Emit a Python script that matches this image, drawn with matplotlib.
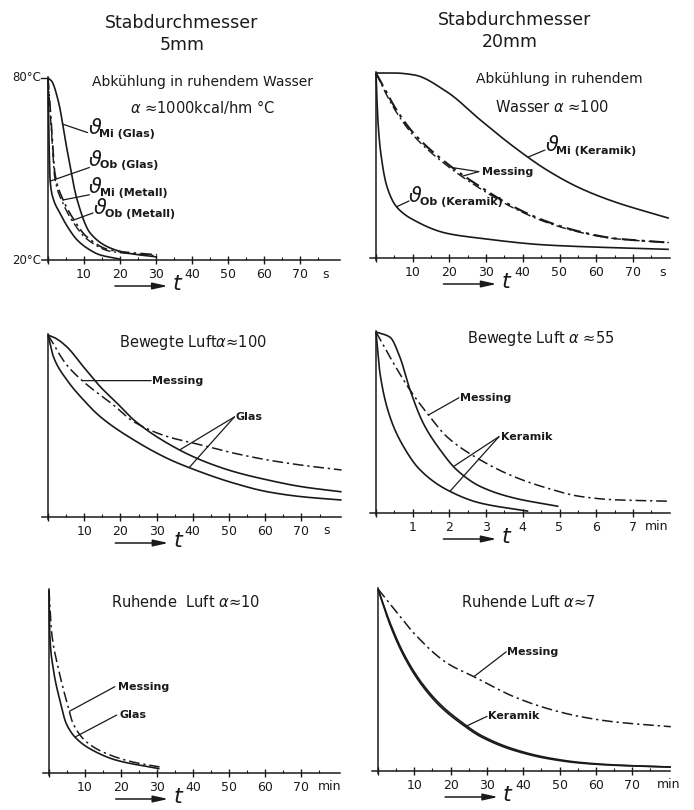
import numpy as np
import matplotlib.pyplot as plt

plt.rcParams['font.family'] = ['DejaVu Sans']
plt.rcParams['mathtext.fontset'] = 'dejavusans'

INK = '#1a1a1a'

# --- Stabdurchmesser 5 mm, ruhendes Wasser (t in s, Temperatur in °C) ---
w5_t_mi_glas = [0, 1.0, 2.8, 5.3, 8.1, 11.7, 17.2, 22.0, 30.3]
w5_v_mi_glas = [80, 79.0, 72.7, 56.3, 39.8, 28.9, 24.0, 22.3, 21.0]
w5_t_ob_glas = [0, 0.3, 0.6, 1.5, 3.3, 5.5, 8.1, 11.0, 14.4, 20.0]
w5_v_ob_glas = [80, 58.0, 46.0, 40.0, 35.5, 30.8, 26.6, 23.8, 21.7, 20.3]
w5_t_mi_met = [0, 0.5, 1.1, 1.9, 4.2, 6.7, 10.8, 17.2, 30.3]
w5_v_mi_met = [80, 72.0, 61.9, 48.7, 39.8, 34.2, 27.6, 23.3, 21.7]
w5_t_ob_met = [0, 0.5, 1.1, 1.9, 4.2, 6.7, 10.8, 17.2, 30.3]
w5_v_ob_met = [80, 70.5, 60.0, 47.0, 38.6, 33.0, 26.9, 22.9, 21.4]

# --- Stabdurchmesser 20 mm, ruhendes Wasser ---
w20_t_mi_ker = [0, 5.0, 10.3, 19.3, 28.4, 37.5, 46.6, 55.7, 64.8, 79.8]
w20_v_mi_ker = [80, 80.0, 79.4, 73.9, 64.8, 56.1, 48.5, 42.6, 38.3, 32.9]
w20_t_mess1 = [0, 2.5, 5.6, 10.3, 19.3, 28.4, 37.5, 46.6, 55.7, 64.8, 79.8]
w20_v_mess1 = [80, 74.5, 68.0, 60.4, 50.7, 43.1, 36.6, 31.8, 28.5, 26.4, 25.0]
w20_t_mess2 = [0, 2.5, 5.6, 10.3, 19.3, 28.4, 37.5, 46.6, 55.7, 64.8, 79.8]
w20_v_mess2 = [80, 73.8, 67.2, 59.6, 50.0, 42.5, 36.2, 31.5, 28.3, 26.3, 25.0]
w20_t_ob_ker = [0, 0.5, 1.2, 3.0, 5.6, 10.3, 19.3, 28.4, 46.6, 79.8]
w20_v_ob_ker = [80, 65.0, 55.0, 43.1, 36.6, 32.3, 28.0, 26.4, 24.2, 22.8]

# --- Bewegte Luft alpha ~ 100 (t in s) ---
b100_t_glas_mi = [0, 2.0, 5.2, 9.8, 14.4, 19.1, 23.7, 33.0, 42.2, 51.5, 60.7, 70.0, 81.1]
b100_v_glas_mi = [80, 79.0, 76.1, 69.5, 63.0, 57.5, 52.0, 44.3, 38.8, 34.9, 32.2, 30.0, 28.3]
b100_t_mess = [0, 5.2, 9.8, 18.1, 23.7, 33.0, 40.4, 51.5, 60.7, 70.0, 81.1]
b100_v_mess = [80, 70.1, 64.6, 56.9, 51.4, 46.5, 44.3, 41.0, 38.8, 37.1, 35.5]
b100_t_glas_ob = [0, 1.5, 5.2, 9.8, 14.4, 23.7, 33.0, 38.5, 51.5, 60.7, 70.0, 81.1]
b100_v_glas_ob = [80, 72.8, 65.2, 58.6, 53.1, 45.4, 39.3, 36.5, 31.1, 28.3, 26.7, 25.6]

# --- Bewegte Luft alpha ~ 55 (t in min) ---
b55_t_ker_mi = [0, 0.38, 0.65, 0.93, 1.29, 1.75, 2.2, 2.84, 3.75, 4.97]
b55_v_ker_mi = [80, 78.3, 71.7, 60.7, 49.7, 40.9, 34.3, 28.8, 25.0, 22.2]
b55_t_ker_ob = [0, 0.11, 0.38, 0.75, 1.2, 1.93, 2.84, 4.15]
b55_v_ker_ob = [80, 66.2, 51.9, 42.0, 34.3, 27.7, 23.3, 20.6]
b55_t_mess = [0, 0.38, 0.93, 1.43, 1.93, 2.84, 3.75, 4.65, 5.56, 6.47, 8.0]
b55_v_mess = [80, 71.7, 60.7, 52.5, 45.3, 37.6, 32.1, 28.3, 25.5, 24.4, 23.9]

# --- Ruhende Luft alpha ~ 10 (t in min) ---
r10_t_glas = [0, 0.2, 1.1, 3.0, 4.8, 7.6, 12.2, 18.7, 30.7]
r10_v_glas = [80, 65.8, 54.8, 43.9, 36.2, 31.3, 27.4, 24.2, 21.4]
r10_t_mess = [0, 0.65, 2.5, 4.8, 6.7, 10.4, 15.9, 23.3, 30.7]
r10_v_mess = [80, 66.9, 54.8, 43.9, 36.2, 30.2, 26.4, 23.6, 22.0]

# --- Ruhende Luft alpha ~ 7 (t in min) ---
r7_t_ker = [0, 3.5, 7.2, 11.7, 17.2, 22.8, 28.3, 37.4, 46.6, 55.8, 65.0, 80.6]
r7_v_ker1 = [80, 67.6, 57.7, 48.9, 41.2, 35.7, 31.3, 26.8, 24.1, 22.6, 21.9, 21.3]
r7_v_ker2 = [80, 68.3, 58.4, 49.6, 41.9, 36.3, 31.8, 27.2, 24.4, 22.8, 22.0, 21.3]
r7_t_mess = [0, 5.3, 9.9, 19.1, 26.4, 37.4, 46.6, 55.8, 65.0, 80.6]
r7_v_mess = [80, 72.1, 65.4, 55.5, 51.1, 44.5, 40.6, 37.9, 36.2, 34.6]

W, H = 694, 810
fig = plt.figure(figsize=(W / 100, H / 100), dpi=100)


def smooth(t, v):
    # PCHIP through the read points, only for drawing smooth lines
    t = np.asarray(t, float)
    v = np.asarray(v, float)
    tt = np.linspace(t[0], t[-1], 300)
    h = np.diff(t)
    d = np.diff(v) / h
    m = np.zeros_like(v)
    m[0], m[-1] = d[0], d[-1]
    for i in range(1, len(v) - 1):
        if d[i - 1] * d[i] <= 0:
            m[i] = 0
        else:
            w1 = 2 * h[i] + h[i - 1]
            w2 = h[i] + 2 * h[i - 1]
            m[i] = (w1 + w2) / (w1 / d[i - 1] + w2 / d[i])
    idx = np.clip(np.searchsorted(t, tt) - 1, 0, len(t) - 2)
    x0, x1 = t[idx], t[idx + 1]
    hh = x1 - x0
    s = (tt - x0) / hh
    h00 = 2 * s**3 - 3 * s**2 + 1
    h10 = s**3 - 2 * s**2 + s
    h01 = -2 * s**3 + 3 * s**2
    h11 = s**3 - s**2
    vv = h00 * v[idx] + h10 * hh * m[idx] + h01 * v[idx + 1] + h11 * hh * m[idx + 1]
    return tt, vv


def panel(x0, pxu, xmax, y20, y80, step, unit, unit_x):
    xmin = -0.02 * xmax
    pyu = (y20 - y80) / 60.0
    ymin, ymax = 19.2, 81.5
    left = x0 + xmin * pxu
    right = x0 + xmax * pxu
    bottom = y20 + (20 - ymin) * pyu
    top = y80 - (ymax - 80) * pyu
    ax = fig.add_axes([left / W, 1 - bottom / H, (right - left) / W, (bottom - top) / H])
    ax.set_xlim(xmin, xmax)
    ax.set_ylim(ymin, ymax)
    for s in ['top', 'right']:
        ax.spines[s].set_visible(False)
    ax.spines['left'].set_position(('data', 0))
    ax.spines['bottom'].set_position(('data', 20))
    ax.spines['left'].set_bounds(ymin, 80.3)
    for s in ['left', 'bottom']:
        ax.spines[s].set_color(INK)
        ax.spines[s].set_linewidth(1.1)
    ticks = [step * i for i in range(8)]
    ax.set_xticks(ticks)
    ax.set_xticklabels([''] + [f'{v:g}' for v in ticks[1:]])
    ax.set_xticks([step * (i + 0.5) for i in range(8)], minor=True)
    ax.tick_params(axis='x', which='major', direction='inout', length=6, width=1,
                   color=INK, labelsize=9, pad=2.5, labelcolor=INK)
    ax.tick_params(axis='x', which='minor', direction='in', length=2.5, width=0.8, color=INK)
    ax.set_yticks([])
    ax.patch.set_alpha(0)
    ax.text(unit_x, 20 - 14.0 / pyu, unit, ha='center', va='center',
            fontsize=9, color=INK)
    # arrow with t below the axis
    ya = 20 - 26.0 / pyu
    ax.annotate('', xy=(0.42 * xmax, ya), xytext=(0.22 * xmax, ya), xycoords='data',
                annotation_clip=False,
                arrowprops=dict(arrowstyle='-|>,head_length=0.9,head_width=0.2',
                                color=INK, lw=1.1))
    ax.text(0.445 * xmax, ya + 2.0 / pyu, r'$t$', fontsize=16, ha='center', va='center',
            color=INK, clip_on=False)
    return ax


def curve(ax, t, v, style='-', lw=1.2):
    tt, vv = smooth(t, v)
    if style == '-':
        ax.plot(tt, vv, color=INK, lw=lw, solid_capstyle='butt', clip_on=False)
    else:
        ax.plot(tt, vv, color=INK, lw=lw, linestyle=(0, (7, 2.5, 1.5, 2.5)), clip_on=False)


def lead(ax, t, v, at, label_xy, text=None, fs=8, **kw):
    y = float(np.interp(at, t, v))
    ax.annotate('', xy=(at, y), xytext=label_xy,
                arrowprops=dict(arrowstyle='-', color=INK, lw=0.9, shrinkA=0, shrinkB=0))
    if text is not None:
        ax.text(label_xy[0] + kw.get('dx', 0.3), label_xy[1], text, fontsize=fs,
                ha='left', va='center', color=INK, fontweight='bold')


def vlabel(ax, x, y, sub, tail, fs_theta=15, fs=8):
    ax.text(x, y, r'$\vartheta$', fontsize=fs_theta, ha='left', va='center', color=INK)
    ax.text(x + 3.2 * ax.get_xlim()[1] / 81, y - 1.8, sub + ' ' + tail,
            fontsize=fs, ha='left', va='center', color=INK, fontweight='bold')


# ---------- top left ----------
ax = panel(48, 3.6, 81, 260, 78, 10, 's', 77)
curve(ax, w5_t_mi_glas, w5_v_mi_glas)
curve(ax, w5_t_ob_glas, w5_v_ob_glas)
curve(ax, w5_t_mi_met, w5_v_mi_met, '-.', 1.2)
curve(ax, w5_t_ob_met, w5_v_ob_met, '-.', 1.0)
ax.text(43, 78.7, 'Abkühlung in ruhendem Wasser', fontsize=10, ha='center', va='center', color=INK)
ax.text(43, 70.3, r'$\alpha$ ≈1000kcal/hm °C', fontsize=10.5, ha='center', va='center', color=INK)
ax.plot([-2, 0], [80, 80], color=INK, lw=1, clip_on=False)
ax.text(-2.0, 80, '80°C', fontsize=8.5, ha='right', va='center', color=INK)
ax.text(-2.0, 20, '20°C', fontsize=8.5, ha='right', va='center', color=INK)

lead(ax, w5_t_mi_glas, w5_v_mi_glas, 4.0, (11.0, 62.0))
vlabel(ax, 11.0, 63.5, 'Mi', '(Glas)')
lead(ax, w5_t_ob_glas, w5_v_ob_glas, 0.6, (11.5, 50.5))
vlabel(ax, 11.2, 53.0, 'Ob', '(Glas)')
lead(ax, w5_t_mi_met, w5_v_mi_met, 4.2, (11.5, 41.5))
vlabel(ax, 11.2, 44.0, 'Mi', '(Metall)')
lead(ax, w5_t_ob_met, w5_v_ob_met, 6.7, (12.5, 35.5))
vlabel(ax, 12.5, 37.0, 'Ob', '(Metall)')

fig.text(182 / W, 1 - 23 / H, 'Stabdurchmesser', fontsize=12.5, ha='center', va='center', color=INK)
fig.text(182 / W, 1 - 45 / H, '5mm', fontsize=12.5, ha='center', va='center', color=INK)

# ---------- top right ----------
ax = panel(376, 3.67, 80, 258, 73, 10, 's', 78)
curve(ax, w20_t_mi_ker, w20_v_mi_ker)
curve(ax, w20_t_mess1, w20_v_mess1, '-.', 1.5)
curve(ax, w20_t_mess2, w20_v_mess2, '-.', 1.0)
curve(ax, w20_t_ob_ker, w20_v_ob_ker)
ax.text(50, 78.0, 'Abkühlung in ruhendem', fontsize=10, ha='center', va='center', color=INK)
ax.text(48, 69.0, r'Wasser $\alpha$ ≈100', fontsize=10.5, ha='center', va='center', color=INK)
lead(ax, w20_t_mi_ker, w20_v_mi_ker, 41.5, (46.0, 55.0))
vlabel(ax, 46.0, 56.5, 'Mi', '(Keramik)')
lead(ax, w20_t_ob_ker, w20_v_ob_ker, 5.6, (9.0, 38.5))
vlabel(ax, 8.8, 40.0, 'Ob', '(Keramik)')
lead(ax, w20_t_mess1, w20_v_mess1, 21.0, (28.0, 48.0))
lead(ax, w20_t_mess2, w20_v_mess2, 23.5, (28.0, 48.0), 'Messing', dx=0.8)

fig.text(515 / W, 1 - 20 / H, 'Stabdurchmesser', fontsize=12.5, ha='center', va='center', color=INK)
fig.text(510 / W, 1 - 42 / H, '20mm', fontsize=12.5, ha='center', va='center', color=INK)

# ---------- middle left ----------
ax = panel(48, 3.62, 81, 517, 335, 10, 's', 77)
curve(ax, b100_t_glas_mi, b100_v_glas_mi)
curve(ax, b100_t_mess, b100_v_mess, '-.', 1.1)
curve(ax, b100_t_glas_ob, b100_v_glas_ob)
ax.text(40, 77.5, r'Bewegte Luft$\alpha$≈100', fontsize=10.5, ha='center', va='center', color=INK)
lead(ax, b100_t_mess, b100_v_mess, 9.5, (28.5, float(np.interp(9.5, b100_t_mess, b100_v_mess))),
     'Messing')
lead(ax, b100_t_glas_mi, b100_v_glas_mi, 36.5, (51.5, 53.0))
lead(ax, b100_t_glas_ob, b100_v_glas_ob, 39.0, (51.5, 53.0), 'Glas')

# ---------- middle right ----------
ax = panel(376, 36.7, 8.0, 513, 332, 1, 'min', 7.65)
curve(ax, b55_t_ker_mi, b55_v_ker_mi)
curve(ax, b55_t_ker_ob, b55_v_ker_ob)
curve(ax, b55_t_mess, b55_v_mess, '-.', 1.1)
ax.text(4.5, 78.0, r'Bewegte Luft $\alpha$ ≈55', fontsize=10.5, ha='center', va='center', color=INK)
lead(ax, b55_t_mess, b55_v_mess, 1.43, (2.26, 58.2), 'Messing', dx=0.04)
lead(ax, b55_t_ker_mi, b55_v_ker_mi, 2.12, (3.35, 45.3))
lead(ax, b55_t_ker_ob, b55_v_ker_ob, 2.02, (3.35, 45.3), 'Keramik', dx=0.06)

# ---------- bottom left ----------
ax = panel(49, 3.6, 80.7, 773, 590, 10, 'min', 78.0)
curve(ax, r10_t_glas, r10_v_glas)
curve(ax, r10_t_mess, r10_v_mess, '-.', 1.1)
ax.text(38, 76.2, r'Ruhende  Luft $\alpha$≈10', fontsize=10.5, ha='center', va='center', color=INK)
lead(ax, r10_t_mess, r10_v_mess, 5.7, (18.3, 48.3), 'Messing', dx=0.8)
lead(ax, r10_t_glas, r10_v_glas, 7.3, (18.8, 39.0), 'Glas', dx=0.8)

# ---------- bottom right ----------
ax = panel(378, 3.633, 80.5, 771, 589, 10, 'min', 80.0)
curve(ax, r7_t_ker, r7_v_ker1)
curve(ax, r7_t_ker, r7_v_ker2)
curve(ax, r7_t_mess, r7_v_mess, '-.', 1.1)
ax.text(41.5, 75.8, r'Ruhende Luft $\alpha$≈7', fontsize=10.5, ha='center', va='center', color=INK)
lead(ax, r7_t_mess, r7_v_mess, 26.4, (35.3, 59.3), 'Messing', dx=0.2)
lead(ax, r7_t_ker, r7_v_ker2, 24.5, (30.0, 38.0), 'Keramik', dx=0.3)

fig.savefig('out.png', dpi=100, facecolor='white')
